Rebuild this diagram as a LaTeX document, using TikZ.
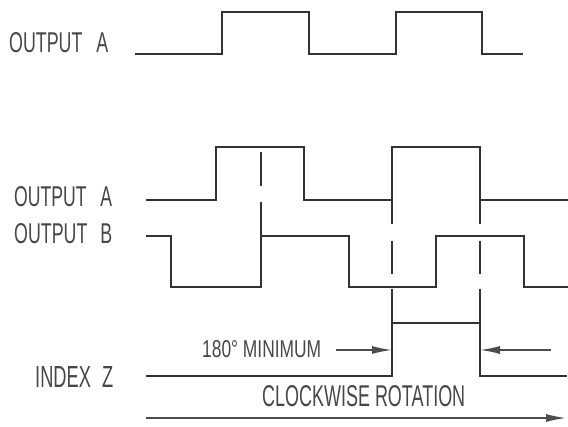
\documentclass[tikz,border=0pt]{standalone}
\usepackage{fontspec}
\setmainfont{Liberation Sans}
\usepackage{graphicx}
\usetikzlibrary{arrows.meta}
\newcommand{\fitlbl}[3]{\resizebox{#1}{#2}{\fontsize{10}{12}\selectfont #3}}
\begin{document}
\begin{tikzpicture}[x=1pt,y=-1pt,
  wave/.style={line width=1.5pt,draw=black!80,line join=miter},
  dashseg/.style={line width=1.5pt,draw=black!80},
  dimarrow/.style={line width=1.5pt,draw=black!70,-{Latex[length=20pt,width=8pt]}},
  lbl/.style={anchor=base west,inner sep=0pt,text=black!72}]
\useasboundingbox (0,0) rectangle (568,427);
% labels
\node[lbl] (la1) at (9,53) {\fitlbl{99pt}{20pt}{OUTPUT\hspace{0.5em} A}};
\node[lbl] (la2) at (14,207) {\fitlbl{98pt}{20pt}{OUTPUT\hspace{0.5em} A}};
\node[lbl] (lb) at (14,244) {\fitlbl{98pt}{20pt}{OUTPUT\hspace{0.45em} B}};
\node[lbl] (lz) at (35,388) {\fitlbl{78pt}{21pt}{INDEX\hspace{0.33em} Z}};
\node[lbl] (lmin) at (202,358) {\fitlbl{119pt}{17pt}{180° MINIMUM}};
\node[lbl] (lcw) at (262,407) {\fitlbl{203pt}{21pt}{CLOCKWISE ROTATION}};
% top output A
\draw[wave] (135,54) -- (222,54) -- (222,12) -- (309,12) -- (309,54) -- (396,54) -- (396,12) -- (482,12) -- (482,54) -- (523,54);
% output A
\draw[wave] (146,200) -- (216,200) -- (216,147) -- (304,147) -- (304,200) -- (392,200) -- (392,147) -- (480,147) -- (480,200) -- (568,200);
% output B
\draw[wave] (146,236) -- (171,236) -- (171,287) -- (261,287) -- (261,236) -- (349,236) -- (349,287) -- (436,287) -- (436,236) -- (524,236) -- (524,287) -- (568,287);
% index Z
\draw[wave] (146,376) -- (392,376) -- (392,323) -- (480,323) -- (480,376) -- (567,376);
% dashed guides
\draw[dashseg] (261,152) -- (261,186);
\draw[dashseg] (261,202) -- (261,236);
\foreach \xx in {392,480} {
  \draw[dashseg] (\xx,200) -- (\xx,224);
  \draw[dashseg] (\xx,241) -- (\xx,274);
  \draw[dashseg] (\xx,289) -- (\xx,323);
}
% 180 minimum arrows
\coordinate (m1s) at (336,350);
\coordinate (m1e) at (392,350);
\coordinate (m2s) at (551,350);
\coordinate (m2e) at (480,350);
\draw[dimarrow] (m1s) -- (m1e);
\draw[dimarrow] (m2s) -- (m2e);
% rotation arrow
\coordinate (rs) at (146,418);
\coordinate (re) at (566,418);
\draw[dimarrow] (rs) -- (re);
\end{tikzpicture}
\end{document}
